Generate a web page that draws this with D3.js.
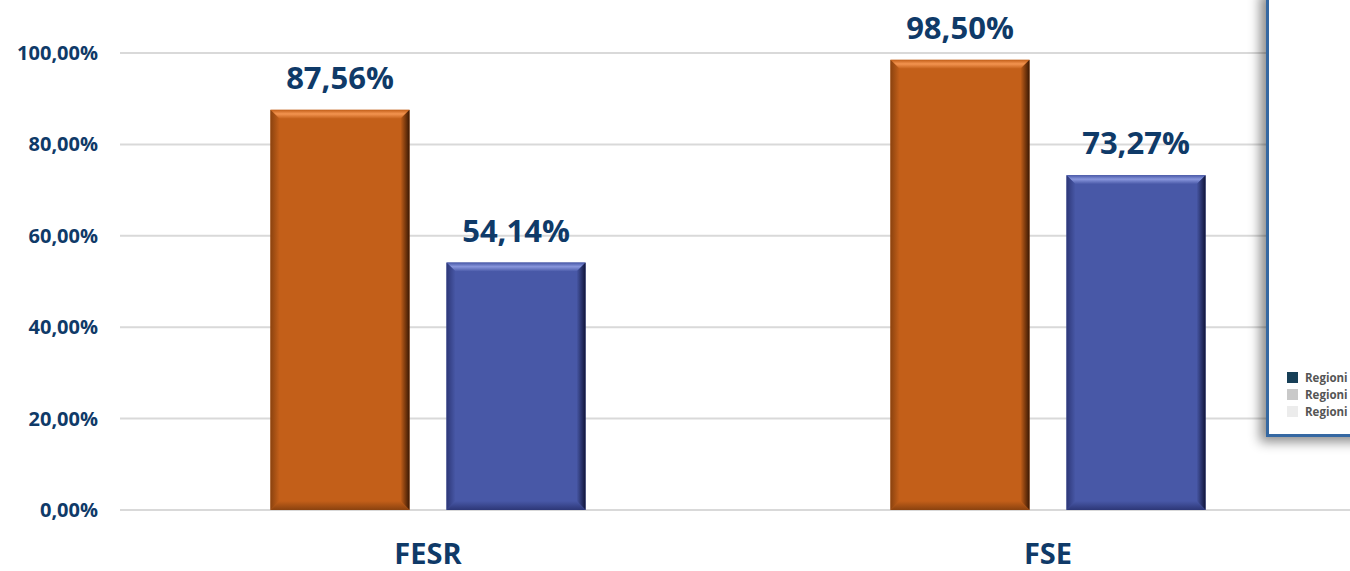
<!DOCTYPE html>
<html>
<head>
<meta charset="utf-8">
<script src="https://cdn.jsdelivr.net/npm/d3@7"></script>
<style>
  body { margin: 0; background: #fff; }
  svg { display: block; }
  text { font-family: "Open Sans", "Noto Sans", sans-serif; font-weight: bold; }
</style>
</head>
<body>
<script>
// Chart data
var categories = ["FESR", "FSE"];
var seriesNames = ["s1", "s2"];
var seriesOrange = [87.56, 98.50];
var seriesBlue = [54.14, 73.27];
var yTicks = [0, 20, 40, 60, 80, 100];
var legendLabels = ["Regioni", "Regioni", "Regioni"];
var legendColors = ["#173f57", "#c9c9c9", "#ececec"];

var width = 1350, height = 571;
var navy = "#0f3a68";

// colors per series: base, light, dark
var palette = [
    {id: "o", base: "#c35f19", light: "#f39450", dark: "#3a1803", mid: "#8a420f"},
    {id: "b", base: "#4858a7", light: "#8896dc", dark: "#10153a", mid: "#2d3777"}
];

function fmt(v) {
    return v.toFixed(2).replace(".", ",") + "%";
}

var svg = d3.select("body").append("svg")
    .attr("width", width)
    .attr("height", height);

var defs = svg.append("defs");
var shadow = defs.append("filter").attr("id", "boxShadow")
    .attr("x", "-50%").attr("y", "-10%").attr("width", "200%").attr("height", "130%");
shadow.append("feDropShadow")
    .attr("dx", -6).attr("dy", 5)
    .attr("stdDeviation", 6)
    .attr("flood-color", "#000")
    .attr("flood-opacity", 0.45);

// gradients for the bevel faces
palette.forEach(function(p) {
    var top = defs.append("linearGradient").attr("id", "top-" + p.id)
        .attr("x1", 0).attr("y1", 0).attr("x2", 0).attr("y2", 1);
    top.append("stop").attr("offset", "0%").attr("stop-color", p.base);
    top.append("stop").attr("offset", "45%").attr("stop-color", p.light);
    top.append("stop").attr("offset", "100%").attr("stop-color", p.base);

    var right = defs.append("linearGradient").attr("id", "right-" + p.id)
        .attr("x1", 0).attr("y1", 0).attr("x2", 1).attr("y2", 0);
    right.append("stop").attr("offset", "0%").attr("stop-color", p.base);
    right.append("stop").attr("offset", "100%").attr("stop-color", p.dark);

    var left = defs.append("linearGradient").attr("id", "left-" + p.id)
        .attr("x1", 0).attr("y1", 0).attr("x2", 1).attr("y2", 0);
    left.append("stop").attr("offset", "0%").attr("stop-color", p.mid);
    left.append("stop").attr("offset", "100%").attr("stop-color", p.base);

    var bottom = defs.append("linearGradient").attr("id", "bottom-" + p.id)
        .attr("x1", 0).attr("y1", 0).attr("x2", 0).attr("y2", 1);
    bottom.append("stop").attr("offset", "0%").attr("stop-color", p.base);
    bottom.append("stop").attr("offset", "100%").attr("stop-color", p.mid);
});

// Scales
var x0 = d3.scaleBand()
    .domain(categories)
    .range([118, 1358]);

var x1 = d3.scaleBand()
    .domain(seriesNames)
    .range([0, x0.bandwidth()])
    .paddingInner(0.21)
    .paddingOuter(0.866);

var y = d3.scaleLinear()
    .domain([0, 100])
    .range([510, 53]);

// gridlines
svg.append("g")
    .selectAll("line")
    .data(yTicks)
    .enter()
    .append("line")
        .attr("x1", 120)
        .attr("x2", 1358)
        .attr("y1", d => y(d))
        .attr("y2", d => y(d))
        .attr("stroke", "#d9d9d9")
        .attr("stroke-width", 2);

// y axis labels
var yAxis = svg.append("g")
    .attr("transform", "translate(98,0)")
    .call(d3.axisLeft(y).tickValues(yTicks).tickSize(0).tickPadding(0).tickFormat(fmt));
yAxis.select(".domain").remove();
yAxis.selectAll("text")
    .attr("fill", navy)
    .style("font-size", "20px")
    .style("font-family", "'Open Sans', sans-serif")
    .style("font-weight", "bold");

// bars with bevel
var rows = categories.map(function(c, i) {
    return [
        {cat: c, key: "s1", value: seriesOrange[i], col: palette[0]},
        {cat: c, key: "s2", value: seriesBlue[i], col: palette[1]}
    ];
});
var flat = [].concat.apply([], rows);

var bars = svg.append("g")
    .selectAll("g")
    .data(flat)
    .enter()
    .append("g")
    .attr("transform", d => "translate(" + (x0(d.cat) + x1(d.key)) + ",0)");

var bw = x1.bandwidth();
var bv = 9;

bars.append("rect")
    .attr("x", 0)
    .attr("y", d => y(d.value))
    .attr("width", bw)
    .attr("height", d => y(0) - y(d.value))
    .attr("fill", d => d.col.base);

function poly(pts) { return pts.map(p => p.join(",")).join(" "); }

// top bevel
bars.append("polygon")
    .attr("points", function(d) {
        var t = y(d.value);
        return poly([[0, t], [bw, t], [bw - bv, t + bv], [bv, t + bv]]);
    })
    .attr("fill", d => "url(#top-" + d.col.id + ")");
// left bevel
bars.append("polygon")
    .attr("points", function(d) {
        var t = y(d.value), b = y(0);
        return poly([[0, t], [bv, t + bv], [bv, b - bv], [0, b]]);
    })
    .attr("fill", d => "url(#left-" + d.col.id + ")");
// right bevel
bars.append("polygon")
    .attr("points", function(d) {
        var t = y(d.value), b = y(0);
        return poly([[bw, t], [bw, b], [bw - bv, b - bv], [bw - bv, t + bv]]);
    })
    .attr("fill", d => "url(#right-" + d.col.id + ")");
// bottom bevel
bars.append("polygon")
    .attr("points", function(d) {
        var b = y(0);
        return poly([[0, b], [bw, b], [bw - bv, b - bv], [bv, b - bv]]);
    })
    .attr("fill", d => "url(#bottom-" + d.col.id + ")");

// value labels
bars.append("text")
    .attr("x", bw / 2)
    .attr("y", d => y(d.value) - 21)
    .attr("text-anchor", "middle")
    .attr("fill", navy)
    .style("font-size", "31px")
    .text(d => fmt(d.value));

// category labels
svg.append("g")
    .selectAll("text")
    .data(categories)
    .enter()
    .append("text")
        .attr("x", d => x0(d) + x0.bandwidth() / 2)
        .attr("y", 564)
        .attr("text-anchor", "middle")
        .attr("fill", navy)
        .style("font-size", "29px")
        .text(d => d);

// overlapping box on the right
svg.append("rect")
    .attr("x", 1267.5)
    .attr("y", -10)
    .attr("width", 100)
    .attr("height", 445.5)
    .attr("fill", "#fff")
    .attr("stroke", "#3567a2")
    .attr("stroke-width", 3)
    .attr("filter", "url(#boxShadow)");

var legend = svg.append("g")
    .selectAll("g")
    .data(legendLabels)
    .enter()
    .append("g")
    .attr("transform", (d, i) => "translate(1287," + (372 + i * 17) + ")");

legend.append("rect")
    .attr("width", 11)
    .attr("height", 11)
    .attr("fill", (d, i) => legendColors[i]);

legend.append("text")
    .attr("x", 18)
    .attr("y", 10)
    .attr("fill", "#555")
    .style("font-size", "11.5px")
    .text(d => d);
</script>
</body>
</html>
